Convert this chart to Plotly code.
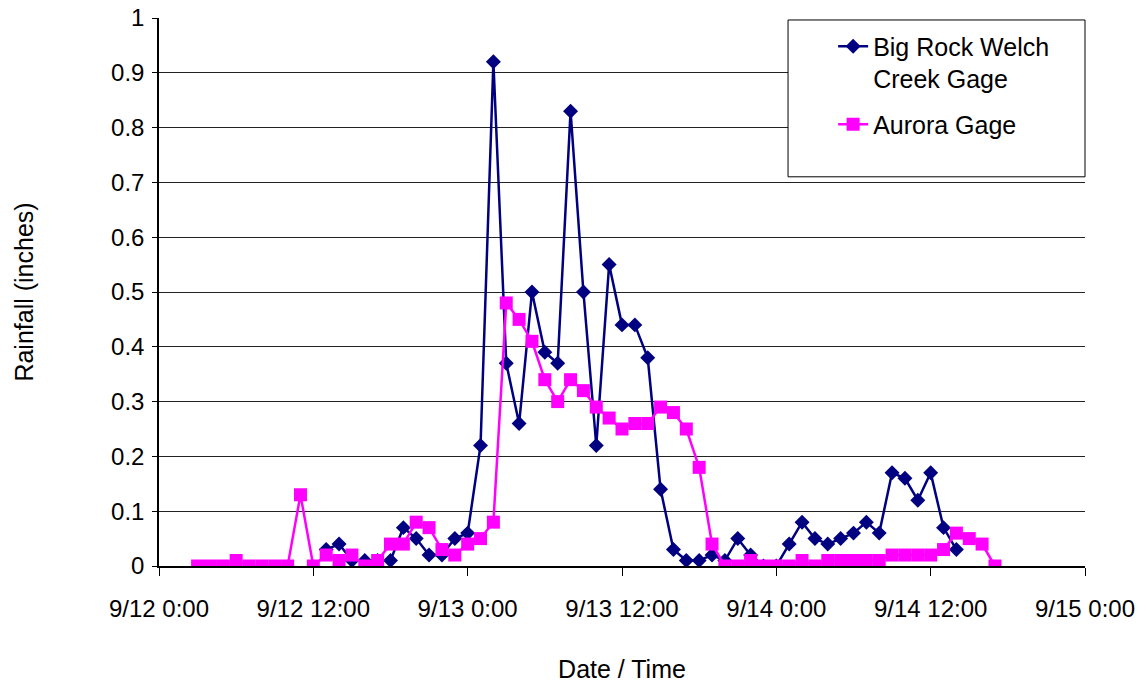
import pandas as pd
import plotly.graph_objects as go

# Hourly rainfall totals (inches) for the two rain gages
big_rock_start = "2010-09-12 13:00"
big_rock_rain = [
    0.03, 0.04, 0.01, 0.01, 0.01, 0.01, 0.07, 0.05, 0.02, 0.02,
    0.05, 0.06, 0.22, 0.92, 0.37, 0.26, 0.50, 0.39, 0.37, 0.83,
    0.50, 0.22, 0.55, 0.44, 0.44, 0.38, 0.14, 0.03, 0.01, 0.01,
    0.02, 0.01, 0.05, 0.02, 0.00, 0.00, 0.04, 0.08, 0.05, 0.04,
    0.05, 0.06, 0.08, 0.06, 0.17, 0.16, 0.12, 0.17, 0.07, 0.03,
]

aurora_start = "2010-09-12 03:00"
aurora_rain = [
    0.00, 0.00, 0.00, 0.01, 0.00, 0.00, 0.00, 0.00, 0.13, 0.00,
    0.02, 0.01, 0.02, 0.00, 0.01, 0.04, 0.04, 0.08, 0.07, 0.03,
    0.02, 0.04, 0.05, 0.08, 0.48, 0.45, 0.41, 0.34, 0.30, 0.34,
    0.32, 0.29, 0.27, 0.25, 0.26, 0.26, 0.29, 0.28, 0.25, 0.18,
    0.04, 0.00, 0.00, 0.01, 0.00, 0.00, 0.00, 0.01, 0.00, 0.01,
    0.01, 0.01, 0.01, 0.01, 0.02, 0.02, 0.02, 0.02, 0.03, 0.06,
    0.05, 0.04, 0.00,
]

axis_start = "2010-09-12 00:00"
axis_end = "2010-09-15 00:00"
x_tick_labels = ["9/12 0:00", "9/12 12:00", "9/13 0:00", "9/13 12:00",
                 "9/14 0:00", "9/14 12:00", "9/15 0:00"]
y_tick_values = [0, 0.1, 0.2, 0.3, 0.4, 0.5, 0.6, 0.7, 0.8, 0.9, 1.0]
y_tick_labels = ["0", "0.1", "0.2", "0.3", "0.4", "0.5", "0.6", "0.7", "0.8", "0.9", "1"]

big_rock_times = pd.date_range(big_rock_start, periods=len(big_rock_rain), freq="h")
aurora_times = pd.date_range(aurora_start, periods=len(aurora_rain), freq="h")
x_tick_values = pd.date_range(axis_start, axis_end, freq="12h")

FONT = "Liberation Sans, Arial, sans-serif"

fig = go.Figure()
fig.add_trace(go.Scatter(
    x=big_rock_times, y=big_rock_rain, mode="lines+markers",
    name="Big Rock Welch<br>Creek Gage", legendgroup="a",
    line=dict(color="#000080", width=2.5),
    marker=dict(symbol="diamond", size=11.5, color="#000080"),
))
fig.add_trace(go.Scatter(
    x=aurora_times, y=aurora_rain, mode="lines+markers",
    name="Aurora Gage", legendgroup="b",
    line=dict(color="#FF00FF", width=2.5),
    marker=dict(symbol="square", size=13, color="#FF00FF"),
))

fig.update_layout(
    width=1146, height=685,
    autosize=False,
    margin=dict(l=159, r=61, t=18, b=119, autoexpand=False),
    paper_bgcolor="white",
    plot_bgcolor="white",
    font=dict(family=FONT, size=24, color="black"),
    showlegend=True,
    legend=dict(
        x=0.728, y=0.99, xanchor="left", yanchor="top",
        bgcolor="rgba(0,0,0,0)", borderwidth=0,
        font=dict(family=FONT, size=25, color="black"),
        valign="top", tracegroupgap=10,
    ),
    shapes=[dict(
        type="rect", xref="paper", yref="paper",
        x0=0.6793, x1=1.0, y0=0.7102, y1=0.9964,
        line=dict(color="black", width=1), fillcolor="white", layer="above",
    )],
)

fig.update_xaxes(
    type="date",
    range=[axis_start, axis_end],
    tickmode="array", tickvals=x_tick_values, ticktext=x_tick_labels,
    ticks="outside", ticklen=8, tickcolor="black", tickwidth=1,
    ticklabelstandoff=12,
    showline=True, linecolor="black", linewidth=1.5,
    showgrid=False, zeroline=False, automargin=False,
    title=dict(text="Date / Time", font=dict(size=25), standoff=40),
    tickfont=dict(size=24),
)
fig.update_yaxes(
    range=[0, 1],
    tickmode="array", tickvals=y_tick_values, ticktext=y_tick_labels,
    ticks="outside", ticklen=5, tickcolor="black", tickwidth=1,
    ticklabelstandoff=3,
    showline=True, linecolor="black", linewidth=1.5,
    showgrid=True, gridcolor="#222222", gridwidth=1,
    zeroline=False, automargin=False,
    title=dict(text="Rainfall (inches)", font=dict(size=25), standoff=70),
    tickfont=dict(size=24),
)

fig.write_html("out.html")
